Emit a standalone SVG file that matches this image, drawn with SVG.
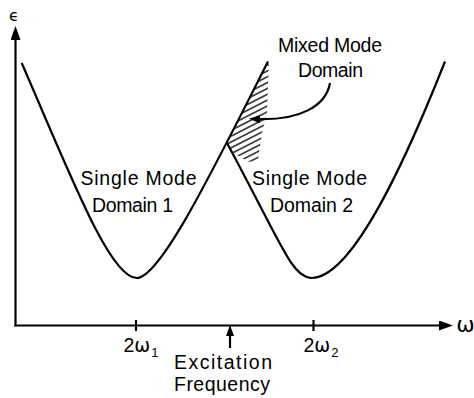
<svg xmlns="http://www.w3.org/2000/svg" width="474" height="398" viewBox="0 0 474 398">
  <style>
    .ln { fill: none; stroke: #000; stroke-width: 2.2; stroke-linecap: butt; stroke-linejoin: round; }
    .lbl { font-family: "Liberation Sans", Arial, sans-serif; font-size: 19.5px; fill: #000; }
    .big { font-family: "DejaVu Sans", "Liberation Sans", sans-serif; fill: #000; }
  </style>
  <defs>
    <marker id="arrow" markerUnits="userSpaceOnUse" markerWidth="14" markerHeight="10" viewBox="0 0 14 10" refX="7" refY="5" orient="auto">
      <path d="M0,0 L14,5 L0,10 z" fill="#000"/>
    </marker>
    <marker id="arrowS" markerUnits="userSpaceOnUse" markerWidth="11" markerHeight="8" viewBox="0 0 11 8" refX="5" refY="4" orient="auto">
      <path d="M0,0 L11,4 L0,8 z" fill="#000"/>
    </marker>
    <pattern id="hatch" patternUnits="userSpaceOnUse" width="10" height="5.2" patternTransform="rotate(-27)">
      <line x1="0" y1="2.6" x2="10" y2="2.6" stroke="#000" stroke-width="1.3"/>
    </pattern>
  </defs>

  <g id="axes">
    <line class="ln" x1="15.5" y1="326.5" x2="15.5" y2="33" marker-end="url(#arrow)"/>
    <line class="ln" x1="14.5" y1="325.5" x2="446" y2="325.5" marker-end="url(#arrow)"/>
    <line class="ln" x1="136" y1="320" x2="136" y2="331"/>
    <line class="ln" x1="313.5" y1="320" x2="313.5" y2="331"/>
    <text class="big" x="14" y="20.5" font-size="16" text-anchor="middle">ϵ</text>
    <text class="big" x="465.5" y="332" font-size="22" text-anchor="middle">ω</text>
  </g>

  <g id="hatched-region">
    <polygon points="268.5,60 251.4,95 235,127 227,143 233,153 249,162 258,160 262,133 267,113 269,60" fill="url(#hatch)"/>
  </g>

  <g id="curves">
    <path id="domain1-curve" class="ln" d="M21.7,63 C71.7,178 110,278 136.7,278 C160,278 212,172 268,61.5"/>
    <path id="domain2-curve" class="ln" d="M227,143 C282,245 292,278 311.7,278 C350,278 400,175 445,61.5"/>
  </g>

  <g id="connectors">
    <path class="ln" d="M330,83 C326,106 300,121 255,119" marker-end="url(#arrowS)"/>
    <line class="ln" x1="230" y1="348" x2="230" y2="331" marker-end="url(#arrowS)"/>
  </g>

  <g id="label-mixed">
    <text class="lbl" x="278" y="52" textLength="104" lengthAdjust="spacing">Mixed Mode</text>
    <text class="lbl" x="298" y="77" textLength="65" lengthAdjust="spacing">Domain</text>
  </g>
  <g id="label-domain1">
    <text class="lbl" x="80.5" y="185" textLength="116" lengthAdjust="spacing">Single Mode</text>
    <text class="lbl" x="92" y="211.5" textLength="81" lengthAdjust="spacing">Domain 1</text>
  </g>
  <g id="label-domain2">
    <text class="lbl" x="252" y="185" textLength="115" lengthAdjust="spacing">Single Mode</text>
    <text class="lbl" x="270" y="211.5" textLength="83" lengthAdjust="spacing">Domain 2</text>
  </g>
  <g id="tick-labels">
    <text class="lbl" x="123.5" y="352" font-size="17">2<tspan font-family="DejaVu Sans, sans-serif" font-size="19">ω</tspan><tspan font-size="13" dy="5" dx="1">1</tspan></text>
    <text class="lbl" x="303.5" y="352" font-size="17">2<tspan font-family="DejaVu Sans, sans-serif" font-size="19">ω</tspan><tspan font-size="13" dy="5" dx="1">2</tspan></text>
  </g>
  <g id="label-excitation">
    <text class="lbl" x="174" y="368.5" textLength="98" lengthAdjust="spacing">Excitation</text>
    <text class="lbl" x="174" y="390.5" textLength="96" lengthAdjust="spacing">Frequency</text>
  </g>
</svg>
